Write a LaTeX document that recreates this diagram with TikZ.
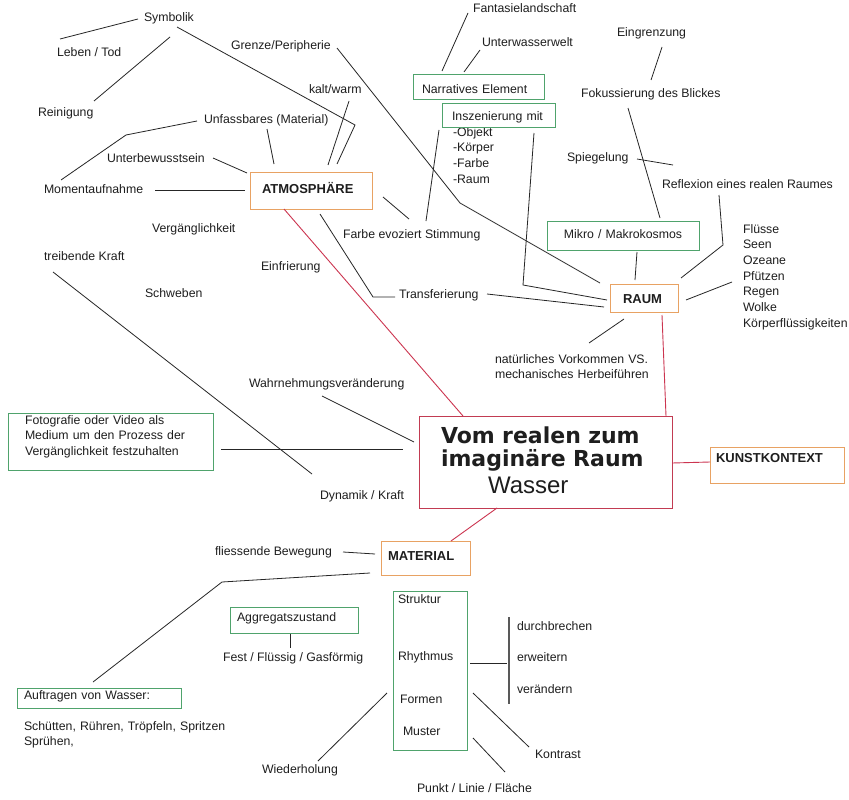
\documentclass[tikz,border=0pt]{standalone}
\usepackage{fontspec}
\setmainfont{Liberation Sans}
\newfontfamily\dejab{DejaVu Sans}
\definecolor{txt}{HTML}{1E1E1E}
\definecolor{lnc}{HTML}{262626}
\definecolor{orb}{HTML}{E8A263}
\definecolor{grb}{HTML}{4FA36C}
\definecolor{rdl}{HTML}{CC3550}
\definecolor{rdb}{HTML}{C23B52}
\newcommand\myLbl{\fontsize{12.3}{15.7}\selectfont}
\newcommand\myBx{\bfseries\fontsize{13}{15.7}\selectfont}
\newcommand\myTitle{\dejab\bfseries\fontsize{22}{23}\selectfont}
\newcommand\myWas{\rmfamily\mdseries\fontsize{24}{27}\selectfont}
\tikzset{
  lbl/.style={anchor=base west, inner sep=0pt, outer sep=0pt, font=\myLbl, text=txt},
  boxbase/.style={draw, anchor=north west, inner ysep=0pt, outer sep=0pt, align=left, text=txt},
  obox/.style={boxbase, draw=orb, line width=0.9pt, font=\myBx},
  gbox/.style={boxbase, draw=grb, line width=0.9pt, font=\myLbl},
  cbox/.style={boxbase, draw=rdb, line width=1pt},
  ln/.style={draw=lnc, line width=0.8pt},
  rl/.style={draw=rdl, line width=0.9pt},
  barl/.style={draw=black!65, line width=1.2pt}
}
\begin{document}
\begin{tikzpicture}[x=1pt,y=-1pt]
\fill[white] (0,0) rectangle (849,800);
\useasboundingbox (0,0) rectangle (849,800);

% ---------- labels ----------
\node[lbl] (sym) at (144,22) {Symbolik};
\node[lbl] (leben) at (57,57) {Leben / Tod};
\node[lbl] (rein) at (38,117) {Reinigung};
\node[lbl] (grenze) at (231,50) {Grenze/Peripherie};
\node[lbl] (kalt) at (309,93) {kalt/warm};
\node[lbl] (unf) at (204,124) {Unfassbares (Material)};
\node[lbl] (unterb) at (107,162) {Unterbewusstsein};
\node[lbl] (moment) at (44,193) {Momentaufnahme};
\node[lbl] (verg) at (152,232) {Vergänglichkeit};
\node[lbl] (treib) at (44,260) {treibende Kraft};
\node[lbl] (einf) at (261,270) {Einfrierung};
\node[lbl] (farbe) at (343,238) {Farbe evoziert Stimmung};
\node[lbl] (schweb) at (145,297) {Schweben};
\node[lbl] (transf) at (399,298) {Transferierung};
\node[lbl] (wahrn) at (249,387) {Wahrnehmungsveränderung};
\node[lbl] (dyn) at (320,499) {Dynamik / Kraft};
\node[lbl] (fant) at (473,13) {Fantasielandschaft};
\node[lbl] (unterw) at (482,47) {Unterwasserwelt};
\node[lbl] (eingr) at (617,37) {Eingrenzung};
\node[lbl] (fokus) at (581,97) {Fokussierung des Blickes};
\node[lbl] (spieg) at (567,161) {Spiegelung};
\node[lbl] (refl) at (662,188) {Reflexion eines realen Raumes};
\node[lbl, align=left, text width=106pt] (fluss) at (743,233) {Flüsse\\Seen\\Ozeane\\Pfützen\\Regen\\Wolke\\Körperflüssigkeiten};
\node[lbl, align=left, text width=160pt] (natur) at (495,363) {natürliches Vorkommen VS.\\mechanisches Herbeiführen};
\node[lbl, align=left, text width=50pt] (insl) at (453,136) {-Objekt\\-Körper\\-Farbe\\-Raum};
\node[lbl] (fliess) at (215,555) {fliessende Bewegung};
\node[lbl] (fest) at (223,661) {Fest / Flüssig / Gasförmig};
\node[lbl, align=left, text width=215pt] (schuett) at (24,730) {Schütten, Rühren, Tröpfeln, Spritzen\\Sprühen,};
\node[lbl] (wieder) at (262,773) {Wiederholung};
\node[lbl] (durch) at (517,630) {durchbrechen};
\node[lbl] (erw) at (517,661) {erweitern};
\node[lbl] (veraend) at (517,693) {verändern};
\node[lbl] (kontr) at (535,758) {Kontrast};
\node[lbl] (punkt) at (417,792) {Punkt / Linie / Fläche};

% ---------- boxes ----------
\node[obox, inner xsep=12pt, text width=98pt, text height=21pt, text depth=16pt] (atmo) at (250,172) {ATMOSPHÄRE};
\node[obox, inner xsep=13pt, text width=42pt, text height=19pt, text depth=9pt] (raum) at (610,284) {RAUM};
\node[obox, inner xsep=6pt, text width=122pt, text height=15pt, text depth=21pt] (kunst) at (710,447) {KUNSTKONTEXT};
\node[obox, inner xsep=7pt, text width=75pt, text height=19pt, text depth=15pt] (mat) at (381,541) {MATERIAL};
\node[cbox, inner xsep=22pt, text width=209pt, text height=27pt, text depth=65pt, font=\myTitle] (cen) at (419,416) {Vom realen zum\\imaginäre Raum\par\vspace{4pt}\myWas\hspace*{47pt}Wasser};

\node[gbox, inner xsep=9pt, text width=113pt, text height=19pt, text depth=6pt] (narr) at (413,74) {Narratives Element};
\node[gbox, inner xsep=10pt, text width=93pt, text height=18pt, text depth=6pt] (insz) at (442,103) {Inszenierung mit};
\node[gbox, inner xsep=14pt, text width=124pt, text height=17pt, text depth=12pt, align=center] (mikro) at (547,221) {Mikro / Makrokosmos};
\node[gbox, inner xsep=17pt, text width=171pt, text height=11pt, text depth=46pt] (foto) at (8,413) {Fotografie oder Video als\\Medium um den Prozess der\\Vergänglichkeit festzuhalten};
\node[gbox, inner xsep=7pt, text width=114pt, text height=14pt, text depth=12pt] (aggr) at (230,607) {Aggregatszustand};
\node[gbox, inner xsep=5pt, text width=64pt, text height=12pt, text depth=147pt] (strukt) at (393,591) {Struktur\\[41.3pt]Rhythmus\\[27.3pt]\hspace*{2pt}Formen\\[16.3pt]\hspace*{5pt}Muster};
\node[gbox, inner xsep=7pt, text width=150pt, text height=11pt, text depth=9pt] (auftr) at (17,688) {Auftragen von Wasser:};

% ---------- black connectors ----------
\draw[ln] ([shift={(-6,-3)}]sym.base west) -- ([shift={(3,-18)}]leben.base west);
\draw[ln] ([shift={(26,15)}]sym.base west) -- ([shift={(56,-16)}]rein.base west);
\draw[ln] ([shift={(33,5)}]sym.base west) -- ([shift={(105,-47)}]atmo.north west) -- ([shift={(87,-8)}]atmo.north west);
\draw[ln] ([shift={(40,8)}]kalt.base west) -- ([shift={(78,-7)}]atmo.north west);
\draw[ln] ([shift={(63,5)}]unf.base west) -- ([shift={(24,-8)}]atmo.north west);
\draw[ln] ([shift={(-7,-3)}]unf.base west) -- ([shift={(82,-58)}]moment.base west) -- ([shift={(17,-13)}]moment.base west);
\draw[ln] ([shift={(106,-4)}]unterb.base west) -- ([shift={(-3,1)}]atmo.north west);
\draw[ln] ([shift={(111,-3)}]moment.base west) -- ([shift={(-5,18)}]atmo.north west);
\draw[ln] ([shift={(106,-2)}]grenze.base west) -- ([shift={(-150,-81)}]raum.north west) -- ([shift={(-10,-1)}]raum.north west);
\draw[ln] ([shift={(133,25)}]atmo.north west) -- ([shift={(66,-19)}]farbe.base west);
\draw[ln] ([shift={(-3,27)}]insz.north west) -- ([shift={(83,-17)}]farbe.base west);
\draw[ln] ([shift={(70,42)}]atmo.north west) -- ([shift={(-26,-1)}]transf.base west) -- ([shift={(-4,-1)}]transf.base west);
\draw[ln] ([shift={(88,-4)}]transf.base west) -- ([shift={(-6,23)}]raum.north west);
\draw[ln] ([shift={(92,30)}]insz.north west) -- ([shift={(-87,1)}]raum.north west) -- ([shift={(-3,16)}]raum.north west);
\draw[ln] ([shift={(90,31)}]mikro.north west) -- ([shift={(25,-4)}]raum.north west);
\draw[ln] ([shift={(57,7)}]refl.base west) -- ([shift={(113,-39)}]raum.north west) -- ([shift={(71,-6)}]raum.north west);
\draw[ln] ([shift={(-11,49)}]fluss.base west) -- ([shift={(76,16)}]raum.north west);
\draw[ln] ([shift={(14,35)}]raum.north west) -- ([shift={(94,-20)}]natur.base west);
\draw[ln] ([shift={(47,11)}]fokus.base west) -- ([shift={(113,-3)}]mikro.north west);
\draw[ln] ([shift={(45,10)}]eingr.base west) -- ([shift={(70,-17)}]fokus.base west);
\draw[ln] ([shift={(70,-2)}]spieg.base west) -- ([shift={(11,-23)}]refl.base west);
\draw[ln] ([shift={(-5,0)}]fant.base west) -- ([shift={(29,-3)}]narr.north west);
\draw[ln] ([shift={(-2,3)}]unterw.base west) -- ([shift={(51,-2)}]narr.north west);
\draw[ln] ([shift={(9,12)}]treib.base west) -- ([shift={(-8,-25)}]dyn.base west);
\draw[ln] ([shift={(73,9)}]wahrn.base west) -- ([shift={(-5,26)}]cen.north west);
\draw[ln] ([shift={(213,36)}]foto.north west) -- ([shift={(-16,33)}]cen.north west);
\draw[ln] ([shift={(128,-3)}]fliess.base west) -- ([shift={(-6,13)}]mat.north west);
\draw[ln] ([shift={(-11,32)}]mat.north west) -- ([shift={(205,-106)}]auftr.north west) -- ([shift={(76,-6)}]auftr.north west);
\draw[ln] ([shift={(60,27)}]aggr.north west) -- ([shift={(67,-13)}]fest.base west);
\draw[ln] ([shift={(56,-12)}]wieder.base west) -- ([shift={(-6,102)}]strukt.north west);
\draw[ln] ([shift={(77,72)}]strukt.north west) -- ([shift={(-10,2)}]erw.base west);
\draw[barl] ([shift={(-8,-13)}]durch.base west) -- ([shift={(-8,11)}]veraend.base west);
\draw[ln] ([shift={(80,102)}]strukt.north west) -- ([shift={(-6,-11)}]kontr.base west);
\draw[ln] ([shift={(80,147)}]strukt.north west) -- ([shift={(88,-20)}]punkt.base west);

% ---------- red connectors ----------
\draw[rl] ([shift={(52,31)}]raum.north west) -- ([shift={(247,0)}]cen.north west);
\draw[rl] ([shift={(34,37)}]atmo.north west) -- ([shift={(44,0)}]cen.north west);
\draw[rl] ([shift={(253,47)}]cen.north west) -- ([shift={(0,15)}]kunst.north west);
\draw[rl] ([shift={(78,92)}]cen.north west) -- ([shift={(70,0)}]mat.north west);
\end{tikzpicture}
\end{document}
